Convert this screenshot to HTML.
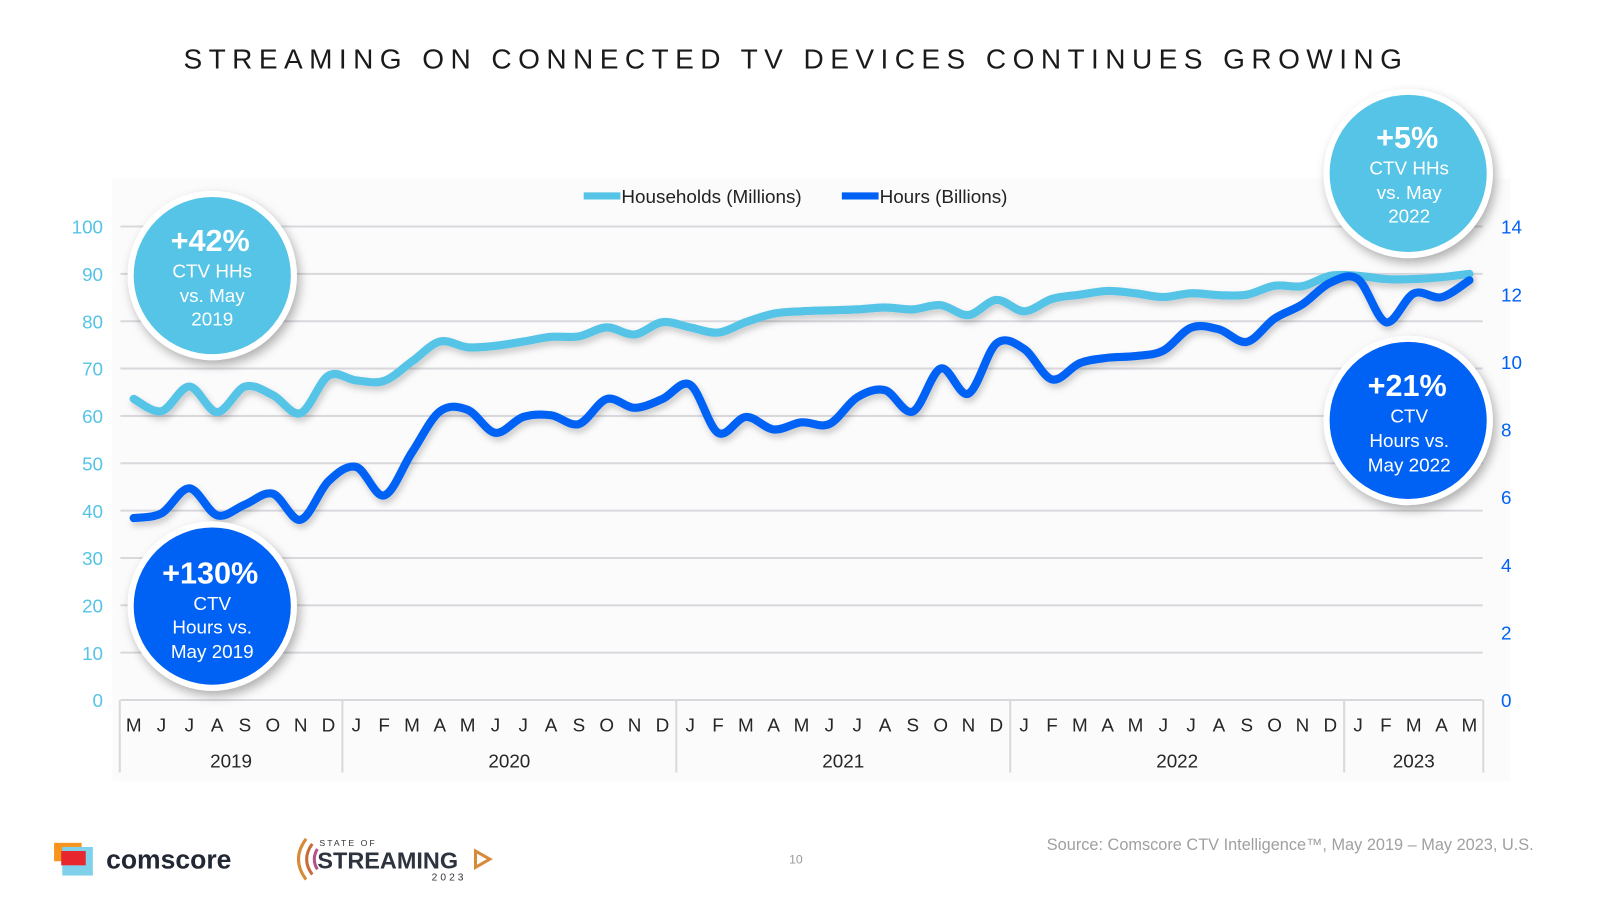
<!DOCTYPE html>
<html><head><meta charset="utf-8"><style>
html,body{margin:0;padding:0;background:#fff;}
svg{display:block;font-family:"Liberation Sans",Arial,sans-serif;}
</style></head><body>
<svg id="chart" width="1600" height="900" viewBox="0 0 1568 882" preserveAspectRatio="none" xmlns="http://www.w3.org/2000/svg">
<defs>
<filter id="sh" x="-30%" y="-30%" width="160%" height="160%"><feDropShadow dx="3" dy="5" stdDeviation="5" flood-color="#000" flood-opacity="0.3"/></filter>
<filter id="lsh" x="-5%" y="-20%" width="110%" height="140%"><feDropShadow dx="2" dy="4" stdDeviation="3" flood-color="#000" flood-opacity="0.2"/></filter>
</defs>
<rect x="110" y="175" width="1370" height="590" fill="#fbfbfc"/>
<text x="780" y="67" text-anchor="middle" font-size="27.5" letter-spacing="6.3" fill="#1a1a1a">STREAMING ON CONNECTED TV DEVICES CONTINUES GROWING</text>
<g id="grid"></g>
<g id="axes"></g>
<g id="lines"></g>
<g>
<line x1="572" y1="192" x2="608" y2="192" stroke="#56c4e6" stroke-width="7"/>
<text x="609" y="199" font-size="18.5" fill="#222">Households (Millions)</text>
<line x1="825" y1="192" x2="861" y2="192" stroke="#0062f5" stroke-width="7"/>
<text x="862" y="199" font-size="18.5" fill="#222">Hours (Billions)</text>
</g>
<g>
<circle cx="208" cy="270" r="80" fill="#56c4e6" stroke="#fff" stroke-width="6" filter="url(#sh)"/>
<text x="206" y="246" text-anchor="middle" font-size="30" font-weight="bold" fill="#fff">+42%</text>
<text x="208" y="272" text-anchor="middle" font-size="18.5" fill="#fff">CTV HHs</text>
<text x="208" y="296" text-anchor="middle" font-size="18.5" fill="#fff">vs. May</text>
<text x="208" y="319" text-anchor="middle" font-size="18.5" fill="#fff">2019</text>
</g>
<g>
<circle cx="208" cy="594" r="80" fill="#0062f5" stroke="#fff" stroke-width="6" filter="url(#sh)"/>
<text x="206" y="572" text-anchor="middle" font-size="30" font-weight="bold" fill="#fff">+130%</text>
<text x="208" y="598" text-anchor="middle" font-size="18.5" fill="#fff">CTV</text>
<text x="208" y="621" text-anchor="middle" font-size="18.5" fill="#fff">Hours vs.</text>
<text x="208" y="645" text-anchor="middle" font-size="18.5" fill="#fff">May 2019</text>
</g>
<g>
<circle cx="1380" cy="170" r="80" fill="#56c4e6" stroke="#fff" stroke-width="6" filter="url(#sh)"/>
<text x="1379" y="145" text-anchor="middle" font-size="30" font-weight="bold" fill="#fff">+5%</text>
<text x="1381" y="171" text-anchor="middle" font-size="18.5" fill="#fff">CTV HHs</text>
<text x="1381" y="195" text-anchor="middle" font-size="18.5" fill="#fff">vs. May</text>
<text x="1381" y="218" text-anchor="middle" font-size="18.5" fill="#fff">2022</text>
</g>
<g>
<circle cx="1380" cy="412" r="80" fill="#0062f5" stroke="#fff" stroke-width="6" filter="url(#sh)"/>
<text x="1379" y="388" text-anchor="middle" font-size="30" font-weight="bold" fill="#fff">+21%</text>
<text x="1381" y="414" text-anchor="middle" font-size="18.5" fill="#fff">CTV</text>
<text x="1381" y="438" text-anchor="middle" font-size="18.5" fill="#fff">Hours vs.</text>
<text x="1381" y="462" text-anchor="middle" font-size="18.5" fill="#fff">May 2022</text>
</g>
<g>
<rect x="53" y="826" width="27" height="18" fill="#f7941d"/>
<rect x="61" y="830" width="30" height="28" fill="#7fd0ea"/>
<rect x="60" y="834" width="24" height="14" fill="#e8262d"/>
<text x="104" y="851" font-size="26" font-weight="bold" fill="#222833">comscore</text>
</g>
<g>
<path d="M300 822 Q285 842 300 862" stroke="#d68a3a" stroke-width="3" fill="none"/>
<path d="M306 827 Q295 842 306 857" stroke="#c96a3a" stroke-width="3" fill="none"/>
<path d="M311 832 Q305 842 311 852" stroke="#b5508a" stroke-width="3" fill="none"/>
<text x="313" y="829" font-size="8.5" letter-spacing="2" fill="#333">STATE OF</text>
<text x="311" y="851" font-size="23" font-weight="bold" fill="#2d3440">STREAMING</text>
<path d="M466 834 L480 842 L466 850 Z" stroke="#d68a3a" stroke-width="3" fill="none"/>
<text x="423" y="863" font-size="10" letter-spacing="3" fill="#333">2023</text>
</g>
<text x="780" y="846" text-anchor="middle" font-size="12" fill="#999">10</text>
<text x="1503" y="833" text-anchor="end" font-size="16" fill="#a0a0a0">Source: Comscore CTV Intelligence™, May 2019 – May 2023, U.S.</text>
</svg>
<script>
const months = ["M","J","J","A","S","O","N","D","J","F","M","A","M","J","J","A","S","O","N","D","J","F","M","A","M","J","J","A","S","O","N","D","J","F","M","A","M","J","J","A","S","O","N","D","J","F","M","A","M"];
const years = ["2019","2020","2021","2022","2023"];
const leftTicks = [0,10,20,30,40,50,60,70,80,90,100];
const rightTicks = [0,2,4,6,8,10,12,14];
const households = [63.6,61.0,66.2,60.8,66.2,64.4,60.6,68.5,67.5,67.4,71.5,75.7,74.5,74.8,75.7,76.7,76.8,78.7,77.2,79.8,78.7,77.6,79.8,81.6,82.1,82.3,82.5,82.9,82.5,83.4,81.3,84.5,82.1,84.7,85.6,86.4,85.9,85.1,85.9,85.5,85.6,87.5,87.4,89.6,89.6,88.9,88.9,89.3,90.0];
const hours = [5.38,5.52,6.26,5.46,5.78,6.10,5.33,6.47,6.89,6.05,7.32,8.53,8.58,7.90,8.37,8.42,8.16,8.90,8.64,8.90,9.32,7.90,8.37,8.00,8.21,8.16,8.95,9.16,8.53,9.80,9.06,10.54,10.38,9.48,9.96,10.12,10.17,10.33,11.01,10.96,10.59,11.28,11.70,12.34,12.44,11.17,12.02,11.91,12.41];

const NS = "http://www.w3.org/2000/svg";
const X0 = 131, X1 = 1440, Y0 = 686, Y1 = 222;
const xS = i => X0 + (X1 - X0) * i / (months.length - 1);
const yL = v => Y0 - (Y0 - Y1) * v / 100;
const yR = v => Y0 - (Y0 - Y1) * v / 14;
function mk(tag, attrs, parent, txt) {
  const e = document.createElementNS(NS, tag);
  for (const k in attrs) e.setAttribute(k, attrs[k]);
  if (txt !== undefined) e.textContent = txt;
  parent.appendChild(e);
  return e;
}
const grid = document.getElementById('grid'), axes = document.getElementById('axes'), lines = document.getElementById('lines');
leftTicks.forEach(t => {
  if (t > 0) {
    const g = mk('line', {x1: 118, x2: 1453, y1: yL(t), y2: yL(t), stroke: '#d9d9dd', 'stroke-width': 2}, grid);
    
    
  }
  const l = mk('text', {x: 101, y: yL(t) + 7, 'text-anchor': 'end', 'font-size': 18.5, fill: '#56c4e6'}, axes, String(t));
  
  
});
rightTicks.forEach(t => {
  const l = mk('text', {x: 1471, y: yR(t) + 7, 'font-size': 18.5, fill: '#0062f5'}, axes, String(t));
  
  
});
const base = mk('line', {x1: 118, x2: 1453, y1: Y0, y2: Y0, stroke: '#d9d9dd', 'stroke-width': 2}, axes);


months.forEach((m, i) => {
  const t = mk('text', {x: xS(i), y: 717, 'text-anchor': 'middle', 'font-size': 18.5, fill: '#262626'}, axes, m);
  
  
});
const yearStart = [0, 8, 20, 32, 44];
const half = (X1 - X0) / (months.length - 1) / 2;
yearStart.forEach((s, k) => {
  const e = k + 1 < yearStart.length ? yearStart[k + 1] - 1 : months.length - 1;
  const xa = xS(s) - half, xb = xS(e) + half;
  const sep = mk('line', {x1: xa, x2: xa, y1: Y0, y2: 757, stroke: '#d9d9dd', 'stroke-width': 2}, axes);
  
  
  if (k === yearStart.length - 1) {
    const sep2 = mk('line', {x1: xb, x2: xb, y1: Y0, y2: 757, stroke: '#d9d9dd', 'stroke-width': 2}, axes);
    
    
  }
  const yt = mk('text', {x: (xa + xb) / 2, y: 752, 'text-anchor': 'middle', 'font-size': 18.5, fill: '#262626'}, axes, years[k]);
  
  
});
function smooth(pts) {
  let d = `M${pts[0][0]},${pts[0][1]}`;
  for (let i = 0; i < pts.length - 1; i++) {
    const p0 = pts[i - 1] || pts[i], p1 = pts[i], p2 = pts[i + 1], p3 = pts[i + 2] || p2;
    const c1 = [p1[0] + (p2[0] - p0[0]) / 6, p1[1] + (p2[1] - p0[1]) / 6];
    const c2 = [p2[0] - (p3[0] - p1[0]) / 6, p2[1] - (p3[1] - p1[1]) / 6];
    d += ` C${c1[0]},${c1[1]} ${c2[0]},${c2[1]} ${p2[0]},${p2[1]}`;
  }
  return d;
}
const hhPath = mk('path', {d: smooth(households.map((v, i) => [xS(i), yL(v)])), fill: 'none', stroke: '#56c4e6', 'stroke-width': 8, 'stroke-linecap': 'round', 'stroke-linejoin': 'round', filter: 'url(#lsh)'}, lines);


const hrPath = mk('path', {d: smooth(hours.map((v, i) => [xS(i), yR(v)])), fill: 'none', stroke: '#0062f5', 'stroke-width': 8, 'stroke-linecap': 'round', 'stroke-linejoin': 'round', filter: 'url(#lsh)'}, lines);


</script>
</body></html>
